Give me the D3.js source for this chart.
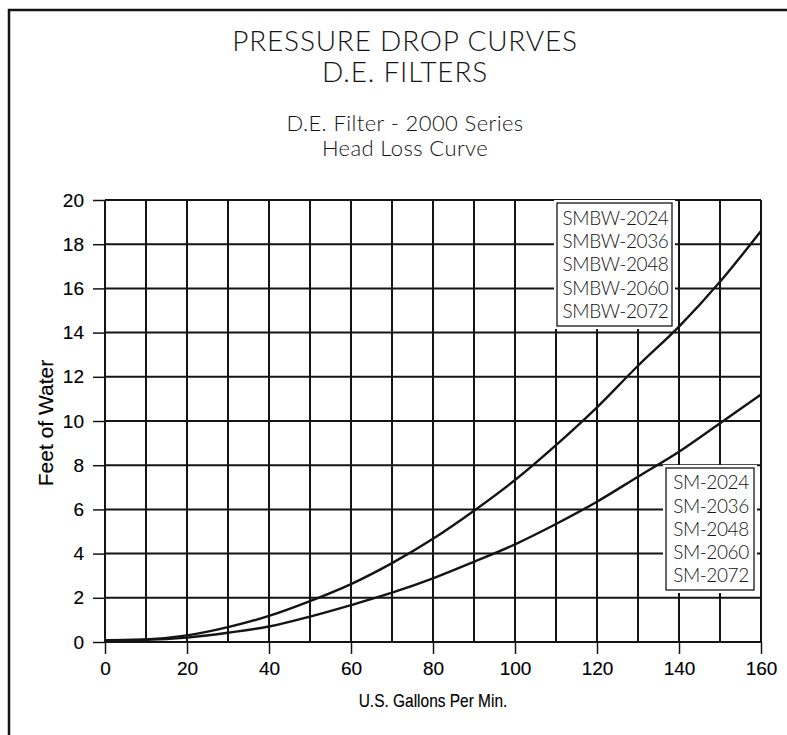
<!DOCTYPE html>
<html>
<head>
<meta charset="utf-8">
<script src="https://cdn.jsdelivr.net/npm/d3@7"></script>
<style>
  body { margin: 0; background: #fff; }
  svg { display: block; }
</style>
</head>
<body>
<script>
// gpm readings along the x axis
var flowGpm = [0, 10, 20, 30, 40, 50, 60, 70, 80, 90, 100, 110, 120, 130, 140, 150, 160];
// feet of water
var smbwHead = [0.08, 0.12, 0.3, 0.67, 1.18, 1.85, 2.62, 3.57, 4.67, 5.94, 7.33, 8.91, 10.62, 12.5, 14.27, 16.3, 18.6];
var smHead = [0.08, 0.1, 0.2, 0.42, 0.7, 1.15, 1.67, 2.23, 2.88, 3.63, 4.42, 5.34, 6.35, 7.48, 8.61, 9.9, 11.2];

var smbwModels = ["SMBW-2024", "SMBW-2036", "SMBW-2048", "SMBW-2060", "SMBW-2072"];
var smModels = ["SM-2024", "SM-2036", "SM-2048", "SM-2060", "SM-2072"];

var xTicks = [0, 20, 40, 60, 80, 100, 120, 140, 160];
var yTicks = [0, 2, 4, 6, 8, 10, 12, 14, 16, 18, 20];

var width = 787,
  height = 735;

var ink = "#141414";
var axisFont = "'Liberation Sans', Arial, sans-serif";
var titleFont = "Lato, 'Open Sans', sans-serif";

var svg = d3.select("body").append("svg")
  .attr("width", width)
  .attr("height", height);

// page frame (only left and top edges visible)
svg.append("path")
  .attr("d", "M9," + height + "V10H" + width)
  .style("fill", "none")
  .style("stroke", ink)
  .style("stroke-width", 2.5);

// titles
var titles = [
  { text: "PRESSURE DROP CURVES", y: 51, size: 28, sp: 0.8 },
  { text: "D.E. FILTERS", y: 82, size: 28, sp: 0.8 },
  { text: "D.E. Filter - 2000 Series", y: 131, size: 22, sp: 0.4 },
  { text: "Head Loss Curve", y: 156, size: 22, sp: 0.4 }
];
svg.selectAll(".title")
  .data(titles)
  .enter().append("text")
  .attr("class", "title")
  .attr("x", 405)
  .attr("y", function(d) { return d.y; })
  .style("text-anchor", "middle")
  .style("font-family", titleFont)
  .style("font-weight", 300)
  .style("font-size", function(d) { return d.size + "px"; })
  .style("letter-spacing", function(d) { return d.sp + "px"; })
  .style("fill", ink)
  .text(function(d) { return d.text; });

var x = d3.scaleLinear().domain([0, 160]).range([105, 761]);
var y = d3.scaleLinear().domain([0, 20]).range([642, 200]);

// grid
var grid = svg.append("g").attr("class", "grid");
grid.selectAll(".vline")
  .data(d3.range(0, 161, 10))
  .enter().append("line")
  .attr("x1", function(d) { return x(d); })
  .attr("x2", function(d) { return x(d); })
  .attr("y1", y(0))
  .attr("y2", y(20))
  .style("stroke", ink)
  .style("stroke-width", 2);
grid.selectAll(".hline")
  .data(yTicks)
  .enter().append("line")
  .attr("x1", x(0))
  .attr("x2", x(160))
  .attr("y1", function(d) { return y(d); })
  .attr("y2", function(d) { return y(d); })
  .style("stroke", ink)
  .style("stroke-width", 2);

// axes
var xAxis = d3.axisBottom(x).tickValues(xTicks).tickSize(12).tickPadding(8).tickSizeOuter(0);
var yAxis = d3.axisLeft(y).tickValues(yTicks).tickSize(12).tickPadding(9).tickSizeOuter(0);

var gx = svg.append("g")
  .attr("transform", "translate(0," + y(0) + ")")
  .call(xAxis);
var gy = svg.append("g")
  .attr("transform", "translate(" + x(0) + ",0)")
  .call(yAxis);

[gx, gy].forEach(function(g) {
  g.select(".domain").remove();
  g.selectAll("line").style("stroke", ink).style("stroke-width", 1.5);
  g.selectAll("text")
    .style("font-family", axisFont)
    .style("font-size", "19px")
    .style("fill", "#000")
    .style("stroke", "#000")
    .style("stroke-width", 0.15);
});

svg.append("text")
  .attr("transform", "translate(433,707) scale(0.86,1)")
  .style("text-anchor", "middle")
  .style("font-family", axisFont)
  .style("font-size", "18px")
  .style("fill", "#000")
  .style("stroke", "#000")
  .style("stroke-width", 0.15)
  .text("U.S. Gallons Per Min.");

svg.append("text")
  .attr("transform", "translate(53,423) rotate(-90)")
  .style("text-anchor", "middle")
  .style("font-family", axisFont)
  .style("font-size", "21px")
  .style("fill", "#000")
  .style("stroke", "#000")
  .style("stroke-width", 0.15)
  .text("Feet of Water");

// curves
var line = d3.line()
  .x(function(d) { return x(d[0]); })
  .y(function(d) { return y(d[1]); })
  .curve(d3.curveMonotoneX);

[smbwHead, smHead].forEach(function(series) {
  svg.append("path")
    .datum(flowGpm.map(function(q, i) { return [q, series[i]]; }))
    .attr("d", line)
    .style("fill", "none")
    .style("stroke", ink)
    .style("stroke-width", 2.4);
});

// legend boxes
function legendBox(names, box) {
  var g = svg.append("g");
  g.append("rect")
    .attr("x", box.x - 3)
    .attr("y", box.y - 3)
    .attr("width", box.w + 6)
    .attr("height", box.h + 6)
    .style("fill", "#fff");
  g.append("rect")
    .attr("x", box.x)
    .attr("y", box.y)
    .attr("width", box.w)
    .attr("height", box.h)
    .style("fill", "#fff")
    .style("stroke", ink)
    .style("stroke-width", 1.3);
  var step = (box.h - 6) / names.length;
  g.selectAll("text")
    .data(names)
    .enter().append("text")
    .attr("x", box.x + box.w / 2 + 1)
    .attr("y", function(d, i) { return box.y + 3 + step * (i + 0.5); })
    .attr("dy", "0.36em")
    .style("text-anchor", "middle")
    .style("font-family", titleFont)
    .style("font-weight", 300)
    .style("font-size", box.size + "px")
    .style("letter-spacing", "-0.4px")
    .style("fill", ink)
    .text(function(d) { return d; });
}

legendBox(smbwModels, { x: 557, y: 203, w: 115, h: 123, size: 19 });
legendBox(smModels, { x: 666, y: 468, w: 88, h: 122, size: 19 });
</script>
</body>
</html>
